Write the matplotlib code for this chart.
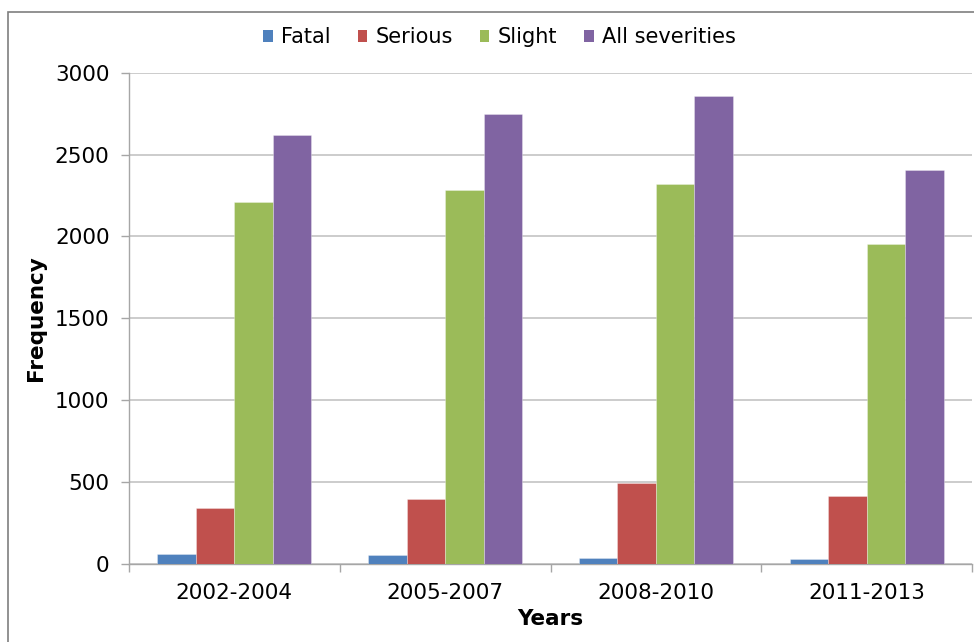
import numpy as np
import matplotlib
matplotlib.use("Agg")
import matplotlib.pyplot as plt
from matplotlib.patches import Patch, Rectangle

periods = ["2002-2004", "2005-2007", "2008-2010", "2011-2013"]
fatal = [64, 57, 34, 33]
serious = [344, 399, 497, 415]
slight = [2212, 2284, 2318, 1953]
all_severities = [2622, 2745, 2857, 2408]

series_names = ["Fatal", "Serious", "Slight", "All severities"]
series_values = [fatal, serious, slight, all_severities]
colors = ["#4F81BD", "#C0504D", "#9BBB59", "#8064A2"]

plt.rcParams['font.family'] = ['DejaVu Sans']

fig = plt.figure(figsize=(9.74, 6.42), dpi=100)
ax = fig.add_axes([0.1324, 0.1215, 0.8656, 0.7653])

# outer chart frame (runs off the right and bottom edges)
fig.patches.append(Rectangle((8 / 974, -0.05), 1.1, 1 - 12 / 642 + 0.05,
                             transform=fig.transFigure, fill=False,
                             edgecolor="#7F7F7F", lw=1.2, zorder=0))

x = np.arange(len(periods))
bar_w = 0.1825
for j, (name, vals, col) in enumerate(zip(series_names, series_values, colors)):
    ax.bar(x + (j - 1.5) * bar_w, vals, width=bar_w, color=col,
           edgecolor=(1, 1, 1, 0.35), linewidth=0.6, label=name, zorder=3)

ax.set_xlim(-0.5, 3.5)
ax.set_ylim(0, 3000)
ax.set_yticks(np.arange(0, 3001, 500))
ax.yaxis.grid(True, color="#BFBFBF", lw=1.1, zorder=0)

ax.set_xticks(x)
ax.set_xticklabels(periods)
ax.set_xticks(np.arange(-0.5, 4.0, 1.0), minor=True)
ax.tick_params(axis="x", which="major", length=0, pad=14, labelsize=15.5)
ax.tick_params(axis="x", which="minor", length=6, color="#A6A6A6", width=1)
ax.tick_params(axis="y", length=6, color="#A6A6A6", width=1, pad=8, labelsize=15.5)

for side in ["top", "right"]:
    ax.spines[side].set_visible(False)
for side in ["left", "bottom"]:
    ax.spines[side].set_color("#A6A6A6")
    ax.spines[side].set_linewidth(1)

ax.set_ylabel("Frequency", fontsize=15.5, fontweight="bold", labelpad=6)
ax.set_xlabel("Years", fontsize=15.5, fontweight="bold", labelpad=4)

handles = [Patch(facecolor=c, label=n) for n, c in zip(series_names, colors)]
fig.legend(handles=handles, loc="center", bbox_to_anchor=(0.513, 0.942), ncol=4,
           frameon=False, fontsize=15, handlelength=0.45, handleheight=0.55,
           handletextpad=0.4, columnspacing=1.3)

fig.savefig("out.png", dpi=100)
